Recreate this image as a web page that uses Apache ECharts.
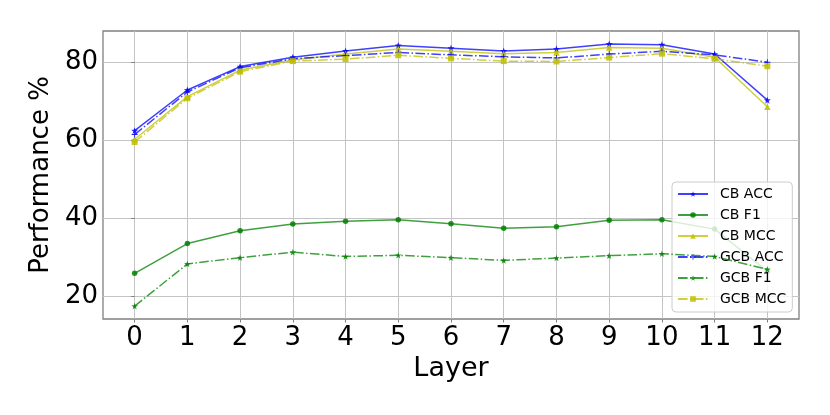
<!DOCTYPE html>
<html><head><meta charset="utf-8">
<script src="https://cdn.jsdelivr.net/npm/echarts@6/dist/echarts.min.js"></script>
<style>html,body{margin:0;padding:0;background:#fff}#c{width:830px;height:415px}</style>
</head><body><div id="c"></div>
<script>
const layers = [0,1,2,3,4,5,6,7,8,9,10,11,12];
const yTicks = [20,40,60,80];
const cbAcc  = [62.5, 72.9, 78.9, 81.3, 82.9, 84.3, 83.6, 82.9, 83.4, 84.7, 84.5, 82.1, 70.3];
const cbF1   = [26.0, 33.6, 36.9, 38.6, 39.3, 39.7, 38.7, 37.5, 37.9, 39.6, 39.7, 37.3, 26.5];
const cbMcc  = [60.3, 71.2, 78.0, 80.6, 82.1, 83.4, 82.8, 82.2, 82.5, 83.8, 83.6, 81.3, 68.6];
const gcbAcc = [61.5, 72.4, 78.6, 80.9, 81.7, 82.5, 81.9, 81.4, 81.1, 82.1, 82.8, 81.9, 80.0];
const gcbF1  = [17.6, 28.4, 30.0, 31.4, 30.3, 30.6, 30.0, 29.3, 29.9, 30.5, 31.0, 30.3, 27.0];
const gcbMcc = [59.6, 70.8, 77.6, 80.3, 80.8, 81.8, 81.0, 80.3, 80.2, 81.2, 82.2, 80.9, 79.0];
const seriesNames = ['CB ACC','CB F1','CB MCC','GCB ACC','GCB F1','GCB MCC'];

const STAR = 'path://M0,-10L2.35,-3.24L9.51,-3.09L3.8,1.24L5.88,8.09L0,4L-5.88,8.09L-3.8,1.24L-9.51,-3.09L-2.35,-3.24Z';
const PLUS = 'path://M-1.5,-10H1.5V-1.5H10V1.5H1.5V10H-1.5V1.5H-10V-1.5H-1.5Z';
const DASHDOT = [9.6, 2.4, 1.5, 2.4];
const styles = [
  {color:'#0000ff', symbol:STAR, size:7, dash:'solid'},
  {color:'#008000', symbol:'circle', size:5.5, dash:'solid'},
  {color:'#bfbf00', symbol:'triangle', size:6.5, dash:'solid'},
  {color:'#0000ff', symbol:PLUS, size:6, dash:DASHDOT},
  {color:'#008000', symbol:STAR, size:6.5, dash:DASHDOT},
  {color:'#bfbf00', symbol:'rect', size:6, dash:DASHDOT}
];
const values = [cbAcc, cbF1, cbMcc, gcbAcc, gcbF1, gcbMcc];

const font = 'DejaVu Sans';
const chart = echarts.init(document.getElementById('c'), null, {renderer:'canvas'});
chart.setOption({
  animation: false,
  backgroundColor: '#ffffff',
  grid: {left:103, top:31, width:696, height:288, show:true, borderColor:'#808080', borderWidth:1.3, backgroundColor:'transparent'},
  xAxis: {
    type:'value', min:-0.6, max:12.6,
    name:'Layer', nameLocation:'middle', nameGap:34,
    nameTextStyle:{fontFamily:font, fontSize:27, color:'#000'},
    axisLine:{show:false},
    axisTick:{show:true, customValues:layers, length:3.5, lineStyle:{color:'#808080', width:1}},
    axisLabel:{customValues:layers, fontFamily:font, fontSize:26, color:'#000', margin:6},
    splitLine:{show:true, lineStyle:{color:'#c4c4c4', width:1}}
  },
  yAxis: {
    type:'value', min:14.3, max:88,
    name:'Performance %', nameLocation:'middle', nameGap:46, nameRotate:90,
    nameTextStyle:{fontFamily:font, fontSize:26, color:'#000'},
    axisLine:{show:false},
    axisTick:{show:true, customValues:yTicks, length:3.5, lineStyle:{color:'#808080', width:1}},
    axisLabel:{customValues:yTicks, fontFamily:font, fontSize:26, color:'#000', margin:5, padding:[4,0,0,0]},
    splitLine:{show:true, lineStyle:{color:'#c4c4c4', width:1}}
  },
  legend: {
    orient:'vertical', left:672, top:182,
    padding:[5,6,6,5], itemGap:7, itemWidth:30, itemHeight:7,
    backgroundColor:'rgba(255,255,255,0.8)', borderColor:'#cccccc', borderWidth:1, borderRadius:4,
    textStyle:{fontFamily:font, fontSize:14, color:'#000', padding:[0,0,0,7], lineHeight:14},
    data: seriesNames
  },
  series: seriesNames.map((n,i)=>({
    name:n, type:'line', z:2+i,
    data: layers.map((x,j)=>[x, values[i][j]]),
    symbol: styles[i].symbol, symbolSize: styles[i].size, showSymbol:true,
    itemStyle:{color:styles[i].color, opacity:0.85},
    lineStyle:{color:styles[i].color, width:1.5, type:styles[i].dash, opacity:0.75},
    emphasis:{disabled:true}
  }))
});
</script></body></html>
